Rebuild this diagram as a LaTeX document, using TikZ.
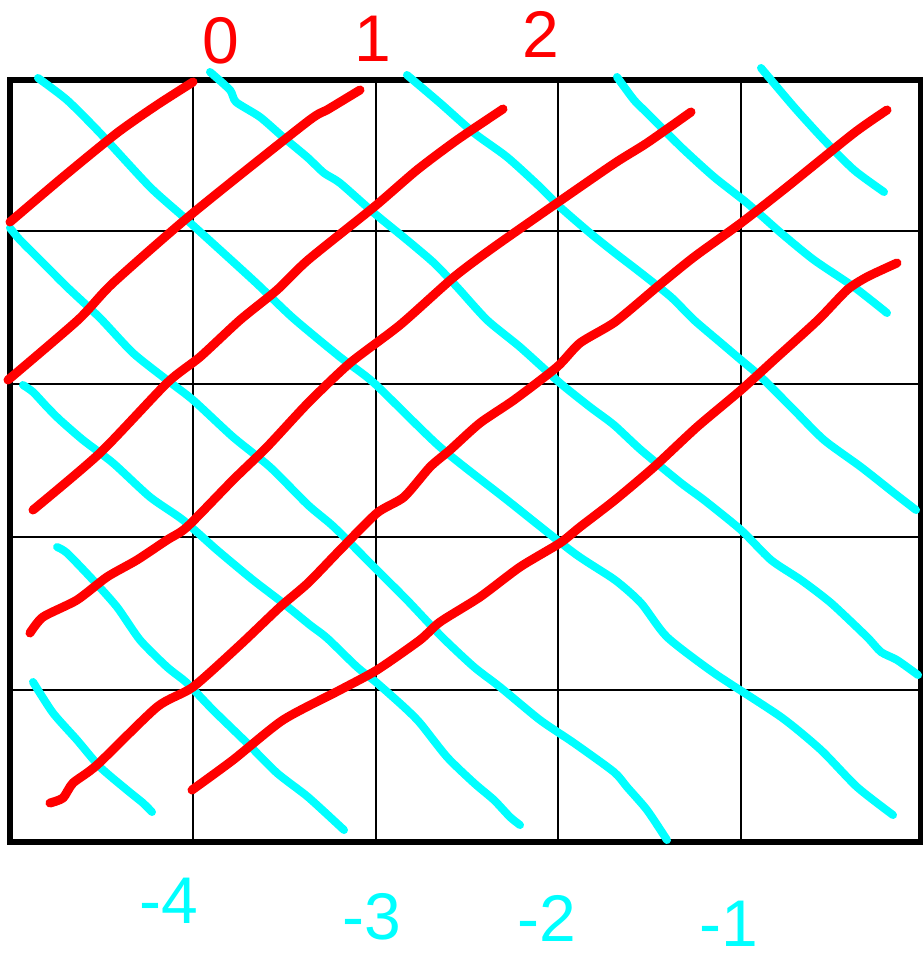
\documentclass[tikz,border=0pt]{standalone}
\usepackage{fontspec}
\setmainfont{Liberation Sans}
\usepackage{xcolor}
\usepackage{tikz}
\usetikzlibrary{arrows.meta,positioning,calc}
\definecolor{penred}{RGB}{255,0,0}
\definecolor{pencyan}{RGB}{0,255,255}

\begin{document}
\begin{tikzpicture}[
  x=1pt, y=-1pt,
  frame/.style={draw=black, line width=6pt},
  cell/.style={draw=black, line width=2.5pt},
  redline/.style={draw=penred, line width=9pt, line cap=round, line join=round},
  cyanline/.style={draw=pencyan, line width=8pt, line cap=round, line join=round},
  redlabel/.style={text=penred, inner sep=0pt, font=\fontsize{66}{66}\selectfont},
  cyanlabel/.style={text=pencyan, inner sep=0pt, font=\fontsize{66}{66}\selectfont},
]
\useasboundingbox (0,0) rectangle (922,960);
\fill[white] (0,0) rectangle (922,960);

% Grid
\foreach \x in {193,376,558,741} {
  \draw[cell] (\x,80) -- (\x,842);
}
\foreach \y in {231,384,537,690} {
  \draw[cell] (10,\y) -- (921,\y);
}
\draw[frame] (10,80) rectangle (921,842);

% Cyan diagonals
\draw[cyanline] plot[smooth, tension=0.4] coordinates {(38,78) (67,100) (100,133) (150,187) (187,220) (253,280) (293,318) (340,357) (374,383) (440,447) (507,500) (574,553) (615,580) (641,603) (667,637) (714,673) (781,717) (821,750) (857,787) (893,815)};
\draw[cyanline] plot[smooth, tension=0.4] coordinates {(210,72) (230,90) (236,102) (260,117) (283,137) (307,157) (324,173) (340,183) (374,213) (407,240) (434,263) (457,287) (487,320) (520,347) (560,383) (590,407) (614,425) (641,450) (681,483) (704,500) (741,530) (771,560) (801,580) (831,603) (867,637) (881,652) (897,660) (918,675)};
\draw[cyanline] plot[smooth, tension=0.4] coordinates {(407,75) (440,103) (474,133) (507,157) (540,187) (560,207) (590,233) (615,253) (641,273) (671,297) (694,320) (721,343) (741,360) (761,377) (794,410) (824,440) (861,467) (894,493) (916,510)};
\draw[cyanline] plot[smooth, tension=0.4] coordinates {(617,77) (634,100) (647,113) (681,147) (714,177) (747,203) (781,233) (814,260) (854,287) (887,313)};
\draw[cyanline] plot[smooth, tension=0.4] coordinates {(761,68) (794,107) (824,140) (854,170) (884,192)};
\draw[cyanline] plot[smooth, tension=0.4] coordinates {(10,228) (20,240) (43,263) (67,287) (100,318) (133,353) (167,380) (193,400) (233,437) (270,467) (308,505) (334,527) (374,567) (407,600) (442,637) (474,667) (500,687) (540,720) (574,743) (614,772) (627,787) (647,810) (667,840)};
\draw[cyanline] plot[smooth, tension=0.4] coordinates {(23,385) (33,392) (47,407) (60,420) (83,440) (113,463) (150,497) (183,520) (217,550) (253,580) (283,603) (310,625) (327,638) (357,667) (377,683) (404,707) (420,723) (447,757) (474,783) (494,800) (510,817) (520,825)};
\draw[cyanline] plot[smooth, tension=0.4] coordinates {(57,547) (67,553) (93,580) (117,607) (140,640) (167,667) (187,683) (213,710) (247,743) (277,773) (308,797) (344,830)};
\draw[cyanline] plot[smooth, tension=0.4] coordinates {(33,682) (53,713) (77,740) (100,767) (127,790) (143,803) (152,812)};

% Red diagonals
\draw[redline] plot[smooth, tension=0.4] coordinates {(10,222) (63,177) (117,133) (157,105) (193,82)};
\draw[redline] plot[smooth, tension=0.4] coordinates {(8,380) (78,320) (113,283) (193,213) (307,122) (327,110) (360,90)};
\draw[redline] plot[smooth, tension=0.4] coordinates {(33,510) (100,453) (167,383) (200,357) (240,320) (277,290) (308,260) (374,207) (417,170) (457,140) (503,109)};
\draw[redline] plot[smooth, tension=0.4] coordinates {(30,633) (43,617) (77,600) (107,577) (137,560) (167,540) (187,527) (233,480) (267,447) (308,403) (350,363) (400,325) (454,277) (494,247) (557,203) (615,163) (647,143) (691,112)};
\draw[redline] plot[smooth, tension=0.4] coordinates {(50,803) (63,798) (73,783) (97,765) (157,707) (193,687) (240,645) (280,607) (308,583) (340,550) (377,513) (404,497) (430,467) (450,450) (480,423) (514,400) (557,367) (580,343) (615,322) (657,287) (694,257) (741,223) (787,187) (854,133) (887,110)};
\draw[redline] plot[smooth, tension=0.4] coordinates {(192,790) (233,760) (283,720) (340,690) (377,670) (420,640) (440,622) (480,597) (520,567) (560,543) (580,527) (615,500) (654,467) (697,427) (741,390) (774,360) (818,320) (847,290) (867,277) (897,263)};

% Labels
\node[redlabel] (top0) at (221,41) {0};
\node[redlabel] (top1) at (373,39) {1};
\node[redlabel] (top2) at (541,34) {2};
\node[cyanlabel] (bot4) at (169,901) {-4};
\node[cyanlabel] (bot3) at (372,917) {-3};
\node[cyanlabel] (bot2) at (547,918) {-2};
\node[cyanlabel] (bot1) at (729,924) {-1};
\end{tikzpicture}
\end{document}
